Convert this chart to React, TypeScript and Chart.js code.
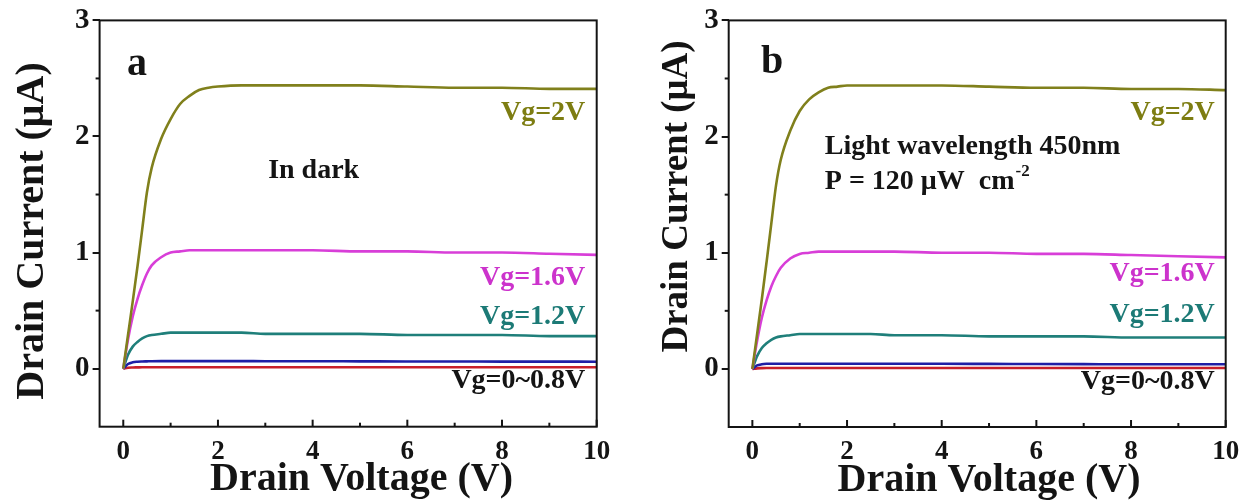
import React, { useEffect, useRef } from 'react';
import { Chart, registerables } from 'chart.js';

Chart.register(...registerables);

// ---------------- data ----------------
const VOLTAGE = [0, 0.1, 0.2, 0.3, 0.4, 0.5, 0.6, 0.8, 1.0, 1.2, 1.4, 1.6, 1.8, 2.0, 2.5, 3, 4, 5, 6, 7, 8, 9, 10];

// panel a (in dark)
const A_VG2 = [0, 0.29, 0.58, 0.88, 1.2, 1.52, 1.73, 1.98, 2.15, 2.28, 2.35, 2.4, 2.42, 2.43, 2.44, 2.44, 2.44, 2.44, 2.43, 2.42, 2.42, 2.41, 2.41];
const A_VG16 = [0, 0.25, 0.45, 0.6, 0.72, 0.82, 0.89, 0.96, 1.0, 1.01, 1.02, 1.02, 1.02, 1.02, 1.02, 1.02, 1.02, 1.01, 1.01, 1.0, 1.0, 0.99, 0.98];
const A_VG12 = [0, 0.12, 0.19, 0.23, 0.26, 0.28, 0.29, 0.3, 0.31, 0.31, 0.31, 0.31, 0.31, 0.31, 0.31, 0.3, 0.3, 0.3, 0.29, 0.29, 0.29, 0.28, 0.28];
const A_VG08 = [0, 0.04, 0.055, 0.06, 0.062, 0.063, 0.064, 0.065, 0.065, 0.065, 0.065, 0.065, 0.065, 0.065, 0.065, 0.064, 0.064, 0.063, 0.062, 0.062, 0.061, 0.061, 0.06];
const A_VG0 = [0, 0.008, 0.01, 0.011, 0.012, 0.012, 0.012, 0.012, 0.012, 0.012, 0.012, 0.012, 0.012, 0.012, 0.012, 0.012, 0.012, 0.012, 0.012, 0.012, 0.012, 0.012, 0.012];

// panel b (light 450 nm)
const B_VG2 = [0, 0.3, 0.6, 0.92, 1.25, 1.58, 1.8, 2.05, 2.22, 2.32, 2.38, 2.42, 2.43, 2.44, 2.44, 2.44, 2.44, 2.43, 2.42, 2.42, 2.41, 2.41, 2.4];
const B_VG16 = [0, 0.24, 0.44, 0.59, 0.71, 0.8, 0.87, 0.95, 0.99, 1.0, 1.01, 1.01, 1.01, 1.01, 1.01, 1.01, 1.0, 1.0, 0.99, 0.99, 0.98, 0.97, 0.96];
const B_VG12 = [0, 0.11, 0.18, 0.22, 0.25, 0.27, 0.28, 0.29, 0.3, 0.3, 0.3, 0.3, 0.3, 0.3, 0.3, 0.29, 0.29, 0.28, 0.28, 0.28, 0.27, 0.27, 0.27];
const B_VG08 = [0, 0.03, 0.04, 0.044, 0.045, 0.045, 0.045, 0.045, 0.045, 0.045, 0.045, 0.045, 0.045, 0.045, 0.045, 0.044, 0.044, 0.043, 0.042, 0.041, 0.04, 0.04, 0.04];
const B_VG0 = [0, 0.005, 0.007, 0.008, 0.008, 0.008, 0.008, 0.008, 0.008, 0.008, 0.008, 0.008, 0.008, 0.008, 0.008, 0.008, 0.008, 0.008, 0.008, 0.008, 0.008, 0.008, 0.008];

const SERIES_LABELS = ['Vg=2V', 'Vg=1.6V', 'Vg=1.2V', 'Vg=0.8V', 'Vg=0V'];
const LINE_COLORS = ['#80801c', '#d83ed8', '#1f7f7a', '#1f1fa6', '#c8202a'];

const X_TICKS = [0, 2, 4, 6, 8, 10];
const X_MINOR = [1, 3, 5, 7, 9];
const Y_TICKS = [0, 1, 2, 3];
const Y_MINOR = [0.5, 1.5, 2.5];

const X_TITLE = 'Drain Voltage (V)';
const Y_TITLE = 'Drain Current (\u03BCA)';

const FONT = '"Liberation Serif", "Times New Roman", Times, serif';
const INK = '#141414';

type Txt = { text: string; x: number; y: number; size: number; color?: string; align?: CanvasTextAlign; sup?: string };

const PANEL_A = {
  series: [A_VG2, A_VG16, A_VG12, A_VG08, A_VG0],
  left: 99.6, right: 596.7, top: 16.7, bottom: 426.7,
  yTitle: { dx: -56.6, cy: 231, size: 40 },
  xTitle: { cx: 361.5, base: 490, size: 40 },
  texts: [
    { text: 'a', x: 0.08, y: 2.53, size: 40 },
    { text: 'In dark', x: 3.06, y: 1.64, size: 28 },
    { text: 'Vg=2V', x: 9.76, y: 2.14, size: 28, color: '#7d7d12', align: 'right' },
    { text: 'Vg=1.6V', x: 9.76, y: 0.72, size: 28, color: '#cc33cc', align: 'right' },
    { text: 'Vg=1.2V', x: 9.76, y: 0.385, size: 28, color: '#1c7a76', align: 'right' },
    { text: 'Vg=0~0.8V', x: 9.76, y: -0.17, size: 28, color: INK, align: 'right' },
  ] as Txt[],
};

const PANEL_B = {
  series: [B_VG2, B_VG16, B_VG12, B_VG08, B_VG0],
  left: 102.7, right: 599.7, top: 18, bottom: 427,
  yTitle: { dx: -41.7, cy: 196.5, size: 37 },
  xTitle: { cx: 363, base: 491, size: 40 },
  texts: [
    { text: 'b', x: 0.18, y: 2.55, size: 40 },
    { text: 'Light wavelength 450nm', x: 1.53, y: 1.85, size: 28 },
    { text: 'P = 120 \u03BCW  cm', x: 1.53, y: 1.55, size: 28, sup: '-2' },
    { text: 'Vg=2V', x: 9.77, y: 2.14, size: 28, color: '#7d7d12', align: 'right' },
    { text: 'Vg=1.6V', x: 9.77, y: 0.76, size: 28, color: '#cc33cc', align: 'right' },
    { text: 'Vg=1.2V', x: 9.77, y: 0.40, size: 28, color: '#1c7a76', align: 'right' },
    { text: 'Vg=0~0.8V', x: 9.77, y: -0.17, size: 28, color: INK, align: 'right' },
  ] as Txt[],
};

const W = 625;
const H = 503;

const decorPlugin = {
  id: 'decor',
  afterDraw(chart: any, _args: any, opts: any) {
    const { ctx, chartArea: ca, scales } = chart;
    const xs = scales.x;
    const ys = scales.y;
    ctx.save();
    ctx.strokeStyle = INK;
    ctx.lineWidth = 2;
    ctx.strokeRect(ca.left, ca.top, ca.right - ca.left, ca.bottom - ca.top);
    const seg = (x1: number, y1: number, x2: number, y2: number) => {
      ctx.beginPath();
      ctx.moveTo(x1, y1);
      ctx.lineTo(x2, y2);
      ctx.stroke();
    };
    for (const v of X_TICKS) {
      const px = xs.getPixelForValue(v);
      seg(px, ca.bottom, px, ca.bottom - 7);
    }
    for (const v of X_MINOR) {
      const px = xs.getPixelForValue(v);
      seg(px, ca.bottom, px, ca.bottom - 4);
    }
    for (const v of Y_MINOR) {
      const py = ys.getPixelForValue(v);
      seg(ca.left - 4, py, ca.left, py);
    }
    // annotations
    for (const t of opts.texts as Txt[]) {
      ctx.font = `bold ${t.size}px ${FONT}`;
      ctx.fillStyle = t.color || INK;
      ctx.textAlign = t.align || 'left';
      ctx.textBaseline = 'alphabetic';
      const px = xs.getPixelForValue(t.x);
      const py = ys.getPixelForValue(t.y);
      ctx.fillText(t.text, px, py);
      if (t.sup) {
        const w = ctx.measureText(t.text).width;
        ctx.font = `bold ${Math.round(t.size * 0.6)}px ${FONT}`;
        ctx.textAlign = 'left';
        ctx.fillText(t.sup, px + w + 1, py - t.size * 0.45);
      }
    }
    // axis titles
    const yt = opts.yTitle;
    ctx.font = `bold ${yt.size}px ${FONT}`;
    ctx.fillStyle = INK;
    ctx.textAlign = 'center';
    ctx.textBaseline = 'alphabetic';
    ctx.save();
    ctx.translate(ca.left + yt.dx, yt.cy);
    ctx.rotate(-Math.PI / 2);
    ctx.fillText(Y_TITLE, 0, 0);
    ctx.restore();
    const xt = opts.xTitle;
    ctx.font = `bold ${xt.size}px ${FONT}`;
    ctx.fillText(X_TITLE, xt.cx, xt.base);
    ctx.restore();
  },
};

function Panel({ cfg, left }: { cfg: any; left: number }) {
  const ref = useRef<HTMLCanvasElement | null>(null);
  useEffect(() => {
    if (!ref.current) return;
    const chart = new Chart(ref.current, {
      type: 'line',
      data: {
        datasets: cfg.series.map((vals: number[], i: number) => ({
          label: SERIES_LABELS[i],
          data: VOLTAGE.map((v, j) => ({ x: v, y: vals[j] })),
          borderColor: LINE_COLORS[i],
          backgroundColor: LINE_COLORS[i],
          borderWidth: 2.6,
          pointRadius: 0,
          fill: false,
          cubicInterpolationMode: 'monotone',
        })),
      },
      options: {
        animation: false,
        responsive: false,
        maintainAspectRatio: false,
        layout: { padding: { left: 0, top: cfg.top, right: W - cfg.right, bottom: 0 } },
        plugins: {
          legend: { display: false },
          tooltip: { enabled: false },
          decor: { texts: cfg.texts, yTitle: cfg.yTitle, xTitle: cfg.xTitle },
        } as any,
        scales: {
          x: {
            type: 'linear',
            min: -0.5,
            max: 10,
            afterBuildTicks: (s: any) => { s.ticks = X_TICKS.map((value) => ({ value })); },
            afterFit: (s: any) => { s.height = H - cfg.bottom; },
            grid: { display: false },
            border: { display: false },
            ticks: { font: { family: FONT, size: 27, weight: 'bold' }, color: INK, padding: 1, maxRotation: 0, autoSkip: false, callback: (v: any) => String(v) },
          },
          y: {
            type: 'linear',
            min: -0.5,
            max: 3,
            afterBuildTicks: (s: any) => { s.ticks = Y_TICKS.map((value) => ({ value })); },
            afterFit: (s: any) => { s.width = cfg.left; },
            grid: { drawOnChartArea: false, tickLength: 7, color: INK, lineWidth: 2 },
            border: { display: false },
            ticks: { font: { family: FONT, size: 29, weight: 'bold' }, color: INK, padding: 3, callback: (v: any) => String(v) },
          },
        },
      },
      plugins: [decorPlugin],
    });
    return () => chart.destroy();
  }, [cfg]);
  return (
    <canvas
      ref={ref}
      width={W}
      height={H}
      style={{ position: 'absolute', left, top: 0, width: W, height: H }}
    />
  );
}

export default function App() {
  return (
    <div style={{ position: 'absolute', left: 0, top: 0, width: 1251, height: 503, background: '#fff', overflow: 'hidden' }}>
      <Panel cfg={PANEL_A} left={0} />
      <Panel cfg={PANEL_B} left={626} />
    </div>
  );
}
